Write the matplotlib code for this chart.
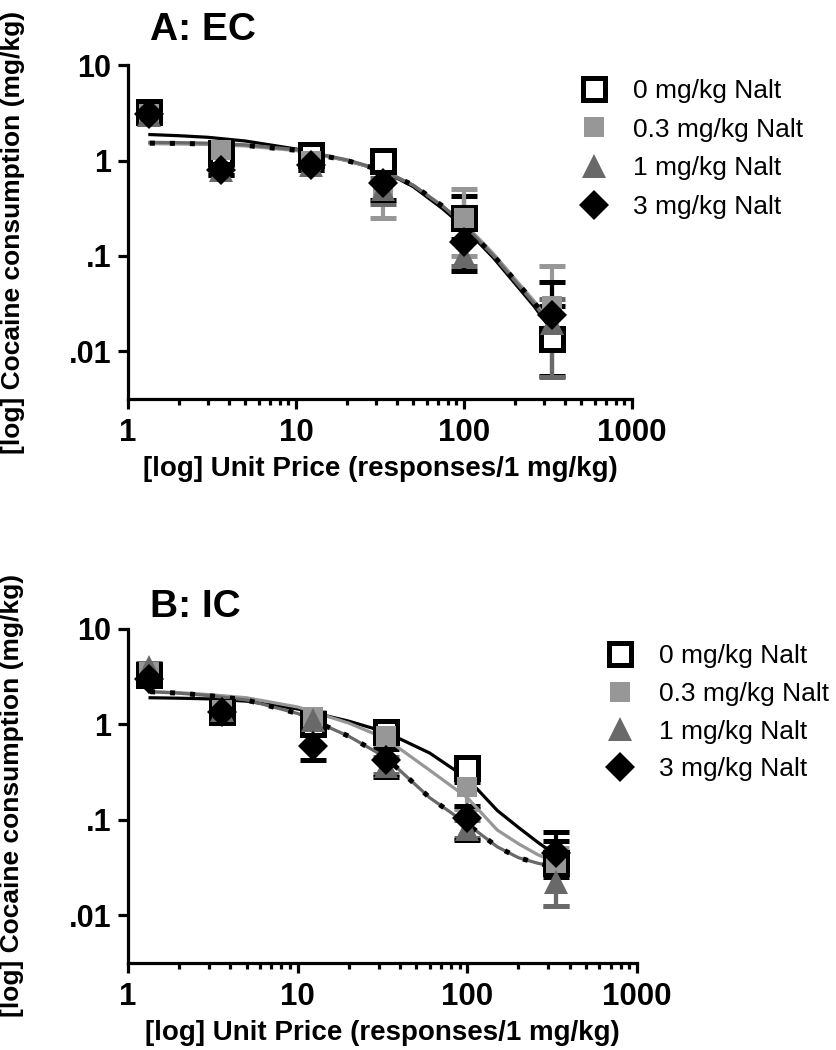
import numpy as np
import matplotlib
matplotlib.use("Agg")
import matplotlib.pyplot as plt
from matplotlib.lines import Line2D
from matplotlib.ticker import LogLocator, NullLocator, NullFormatter

plt.rcParams['font.family'] = ['Liberation Sans', 'DejaVu Sans']

# unit prices (responses / 1 mg/kg)
price = [1.33, 3.6, 12.3, 33, 100, 333]
doses = ['0 mg/kg Nalt', '0.3 mg/kg Nalt', '1 mg/kg Nalt', '3 mg/kg Nalt']

# ---- panel A: EC ----
a_mean = {
    '0': [3.2, 1.2, 1.15, 0.98, 0.25, 0.0135],
    '0.3': [3.1, 1.3, 1.0, 0.5, 0.25, 0.03],
    '1': [3.0, 0.8, 0.9, 0.5, 0.1, 0.02],
    '3': [3.1, 0.8, 0.9, 0.58, 0.14, 0.024],
}
a_lo = {
    '0': [3.0, 1.1, 1.05, 0.8, 0.15, 0.0055],
    '0.3': [2.8, 1.1, 0.9, 0.25, 0.1, 0.012],
    '1': [2.7, 0.7, 0.8, 0.35, 0.078, 0.0054],
    '3': [2.8, 0.7, 0.8, 0.39, 0.07, 0.012],
}
a_hi = {
    '0': [3.5, 1.3, 1.25, 1.0, 0.42, 0.03],
    '0.3': [3.5, 1.5, 1.1, 1.0, 0.5, 0.078],
    '1': [3.3, 0.9, 1.0, 0.65, 0.2, 0.035],
    '3': [3.5, 0.9, 1.0, 0.75, 0.25, 0.053],
}
# fitted curves
a_curve_x = [1.35, 2, 3, 5, 10, 20, 33, 50, 75, 100, 150, 200, 260, 330]
a_curve = {
    '0': [1.87, 1.82, 1.75, 1.6, 1.32, 1.0, 0.78, 0.53, 0.31, 0.2, 0.095, 0.052, 0.03, 0.017],
    '0.3': [1.5, 1.49, 1.47, 1.42, 1.27, 1.0, 0.78, 0.55, 0.33, 0.22, 0.105, 0.058, 0.034, 0.019],
    '1': [1.55, 1.54, 1.52, 1.46, 1.3, 1.02, 0.79, 0.55, 0.33, 0.21, 0.1, 0.055, 0.032, 0.018],
    '3': [1.52, 1.51, 1.49, 1.44, 1.28, 1.0, 0.78, 0.55, 0.33, 0.21, 0.1, 0.056, 0.033, 0.019],
}

# ---- panel B: IC ----
b_mean = {
    '0': [3.3, 1.35, 1.0, 0.83, 0.35, 0.035],
    '0.3': [3.5, 1.4, 1.2, 0.75, 0.22, 0.035],
    '1': [4.0, 1.4, 1.1, 0.37, 0.08, 0.022],
    '3': [3.0, 1.35, 0.6, 0.42, 0.105, 0.045],
}
b_lo = {
    '0': [3.0, 1.2, 0.85, 0.7, 0.25, 0.025],
    '0.3': [3.2, 1.25, 1.05, 0.6, 0.13, 0.0126],
    '1': [3.6, 1.25, 0.95, 0.3, 0.065, 0.0126],
    '3': [2.7, 1.2, 0.42, 0.28, 0.061, 0.03],
}
b_hi = {
    '0': [3.6, 1.5, 1.15, 0.95, 0.45, 0.06],
    '0.3': [3.8, 1.55, 1.35, 0.9, 0.28, 0.05],
    '1': [4.4, 1.55, 1.25, 0.45, 0.1, 0.035],
    '3': [3.3, 1.5, 0.8, 0.55, 0.14, 0.074],
}
b_curve_x = [1.35, 2, 3, 5, 10, 20, 33, 60, 100, 150, 200, 260, 330]
b_curve = {
    '0': [1.9, 1.88, 1.85, 1.75, 1.45, 1.08, 0.83, 0.5, 0.27, 0.125, 0.083, 0.058, 0.043],
    '0.3': [2.2, 2.15, 2.05, 1.9, 1.52, 1.03, 0.71, 0.33, 0.17, 0.078, 0.056, 0.043, 0.036],
    '1': [2.2, 2.12, 2.0, 1.8, 1.3, 0.75, 0.45, 0.17, 0.09, 0.052, 0.04, 0.035, 0.032],
    '3': [2.2, 2.12, 2.0, 1.8, 1.3, 0.75, 0.45, 0.17, 0.09, 0.052, 0.04, 0.035, 0.032],
}

keys = ['0', '0.3', '1', '3']
colors = {'0': 'black', '0.3': '#979797', '1': '#696969', '3': 'black'}
markers = {'0': 's', '0.3': 's', '1': '^', '3': 'D'}
msizes = {'0': 16, '0.3': 15, '1': 17, '3': 15}


def make_handle(k):
    if k == '0':
        return Line2D([], [], ls='none', marker='s', ms=msizes[k], mfc='white', mec='black', mew=3.6)
    return Line2D([], [], ls='none', marker=markers[k], ms=msizes[k], color=colors[k], mew=0)


def draw_panel(ax, mean, lo, hi, cx, curves):
    for k in keys:
        m = np.array(mean[k])
        yerr = [m - np.array(lo[k]), np.array(hi[k]) - m]
        ax.errorbar(price, m, yerr=yerr, fmt='none', ecolor=colors[k],
                    elinewidth=3, capsize=9.5, capthick=3.6, zorder=2)
    for k in ['0', '0.3', '1']:
        ax.plot(cx, curves[k], color=colors[k], lw=2.3, ls='-', zorder=3)
    ax.plot(cx, curves['3'], color='black', lw=3.6, ls=(0, (1, 3)),
            solid_capstyle='butt', dash_capstyle='butt', zorder=4)
    for k in keys:
        if k == '0':
            ax.plot(price, mean[k], ls='none', marker='s', ms=msizes[k], mfc='white',
                    mec='black', mew=3.6, zorder=5)
        else:
            ax.plot(price, mean[k], ls='none', marker=markers[k], ms=msizes[k],
                    color=colors[k], mew=0, zorder=5)
    ax.set_xscale('log')
    ax.set_yscale('log')
    ax.set_xlim(1, 1000)
    ax.set_ylim(10 ** -2.5, 10)
    ax.set_xticks([1, 10, 100, 1000])
    ax.set_xticklabels(['1', '10', '100', '1000'])
    ax.set_yticks([0.01, 0.1, 1, 10])
    ax.set_yticklabels(['.01', '.1', '1', '10'])
    ax.yaxis.set_minor_locator(NullLocator())
    ax.xaxis.set_minor_locator(LogLocator(base=10, subs=np.arange(2, 10)))
    ax.xaxis.set_minor_formatter(NullFormatter())
    for s in ['top', 'right']:
        ax.spines[s].set_visible(False)
    for s in ['left', 'bottom']:
        ax.spines[s].set_linewidth(2.3)
    ax.tick_params(which='major', length=7, width=2.3, pad=6)
    ax.tick_params(which='minor', length=4.5, width=2.3)
    ax.tick_params(axis='x', labelsize=22.5, pad=7)
    ax.tick_params(axis='y', labelsize=22, pad=5)
    for lab in ax.get_xticklabels() + ax.get_yticklabels():
        lab.set_fontweight('bold')
    ax.set_xlabel('[log] Unit Price (responses/1 mg/kg)', fontsize=20, fontweight='bold')
    ax.set_ylabel('[log] Cocaine consumption (mg/kg)', fontsize=19, fontweight='bold')
    ax.xaxis.set_label_coords(0.5, -0.172)
    ax.yaxis.set_label_coords(-0.205, 0.5)


fig = plt.figure(figsize=(8.36, 10.5), dpi=100)
ax1 = fig.add_axes([0.1531, 0.620, 0.6029, 0.318])
ax2 = fig.add_axes([0.1531, 0.083, 0.609, 0.318])

draw_panel(ax1, a_mean, a_lo, a_hi, a_curve_x, a_curve)
draw_panel(ax2, b_mean, b_lo, b_hi, b_curve_x, b_curve)

fig.text(150 / 836, 1 - 40 / 1050, 'A: EC', fontsize=28, fontweight='bold', va='baseline')
fig.text(150 / 836, 1 - 617 / 1050, 'B: IC', fontsize=28, fontweight='bold', va='baseline')

leg_kw = dict(loc='upper left', bbox_transform=fig.transFigure, frameon=False, fontsize=19,
              handletextpad=0.9, handlelength=1.15, borderpad=0, borderaxespad=0)
ax1.legend([make_handle(k) for k in keys], doses, bbox_to_anchor=(0.6926, 0.925),
           labelspacing=0.56, **leg_kw)
ax2.legend([make_handle(k) for k in keys], doses, bbox_to_anchor=(0.7237, 0.3865),
           labelspacing=0.52, **leg_kw)

fig.savefig('out.png', dpi=100)
